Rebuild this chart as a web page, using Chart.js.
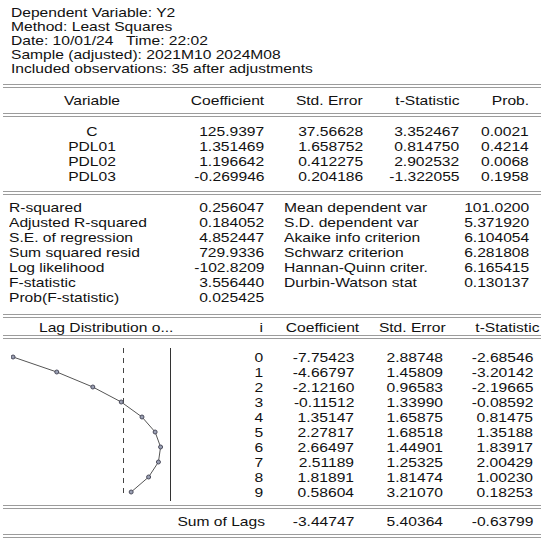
<!DOCTYPE html>
<html lang="en">
  <head>
    <meta charset="UTF-8" />
    <title>Least Squares output</title>
    <style>
      * { margin: 0; padding: 0; box-sizing: border-box; }
      body {
        width: 541px;
        height: 540px;
        overflow: hidden;
        background: #fff;
        position: relative;
        font-family: "Liberation Sans", Arial, sans-serif;
        font-size: 13px;
        color: #111;
      }
      .t {
        position: absolute;
        line-height: 15px;
        white-space: pre;
      }
      .rule {
        position: absolute;
        left: 3px;
        width: 538px;
        height: 4px;
        border-top: 1px solid #9c9c9c;
        border-bottom: 1px solid #9c9c9c;
      }
      #lagBox {
        position: absolute;
        left: 11px;
        top: 348px;
        width: 160px;
        height: 153px;
      }
    </style>
    <script src="https://cdn.jsdelivr.net/npm/chart.js"></script>
    <script>
      const headerLines = [
        "Dependent Variable: Y2",
        "Method: Least Squares",
        "Date: 10/01/24   Time: 22:02",
        "Sample (adjusted): 2021M10 2024M08",
        "Included observations: 35 after adjustments",
      ];
      const columnNames = ["Variable", "Coefficient", "Std. Error", "t-Statistic", "Prob."];
      const variables = ["C", "PDL01", "PDL02", "PDL03"];
      const coefficients = ["125.9397", "1.351469", "1.196642", "-0.269946"];
      const stdErrors = ["37.56628", "1.658752", "0.412275", "0.204186"];
      const tStats = ["3.352467", "0.814750", "2.902532", "-1.322055"];
      const probs = ["0.0021", "0.4214", "0.0068", "0.1958"];

      const statNamesLeft = ["R-squared", "Adjusted R-squared", "S.E. of regression", "Sum squared resid", "Log likelihood", "F-statistic", "Prob(F-statistic)"];
      const statValuesLeft = ["0.256047", "0.184052", "4.852447", "729.9336", "-102.8209", "3.556440", "0.025425"];
      const statNamesRight = ["Mean dependent var", "S.D. dependent var", "Akaike info criterion", "Schwarz criterion", "Hannan-Quinn criter.", "Durbin-Watson stat"];
      const statValuesRight = ["101.0200", "5.371920", "6.104054", "6.281808", "6.165415", "0.130137"];

      const lags = [0, 1, 2, 3, 4, 5, 6, 7, 8, 9];
      const lagCoef = [-7.75423, -4.66797, -2.1216, -0.11512, 1.35147, 2.27817, 2.66497, 2.51189, 1.81891, 0.58604];
      const lagStdErr = [2.88748, 1.45809, 0.96583, 1.3399, 1.65875, 1.68518, 1.44901, 1.25325, 1.81474, 3.2107];
      const lagTStat = [-2.68546, -3.20142, -2.19665, -0.08592, 0.81475, 1.35188, 1.83917, 2.00429, 1.0023, 0.18253];
      const sumOfLags = [-3.44747, 5.40364, -0.63799];

      const W = 541;
      const SX = 1.2;

      function put(text, x, y, align) {
        const d = document.createElement("div");
        d.className = "t";
        d.textContent = text;
        d.style.top = (y - 7.2) + "px";
        if (align === "right") {
          d.style.right = (W - x) + "px";
          d.style.transformOrigin = "right center";
          d.style.transform = `scaleX(${SX})`;
        } else if (align === "center") {
          d.style.left = x + "px";
          d.style.transform = `translateX(-50%) scaleX(${SX})`;
        } else {
          d.style.left = x + "px";
          d.style.transformOrigin = "left center";
          d.style.transform = `scaleX(${SX})`;
        }
        document.body.appendChild(d);
      }

      function rule(y) {
        const d = document.createElement("div");
        d.className = "rule";
        d.style.top = y + "px";
        document.body.appendChild(d);
      }

      // dashed zero line + solid right border of the lag plot
      const lagLines = {
        id: "lagLines",
        beforeDatasetsDraw(chart) {
          const { ctx, chartArea, scales } = chart;
          const x0 = Math.round(scales.x.getPixelForValue(0)) + 0.5;
          ctx.save();
          ctx.strokeStyle = "#444";
          ctx.lineWidth = 1;
          ctx.setLineDash([5, 5]);
          ctx.beginPath();
          ctx.moveTo(x0, chartArea.top);
          ctx.lineTo(x0, chartArea.bottom - 6);
          ctx.stroke();
          ctx.setLineDash([]);
          ctx.strokeStyle = "#333";
          ctx.beginPath();
          ctx.moveTo(chartArea.right - 0.5, chartArea.top);
          ctx.lineTo(chartArea.right - 0.5, chartArea.bottom);
          ctx.stroke();
          ctx.restore();
        },
      };

      window.onload = () => {
        headerLines.forEach((s, i) => put(s, 11, 11.7 + i * 14.2, "left"));

        rule(84);
        put(columnNames[0], 91.5, 100.5, "center");
        put(columnNames[1], 264.5, 100.5, "right");
        put(columnNames[2], 363, 100.5, "right");
        put(columnNames[3], 459.5, 100.5, "right");
        put(columnNames[4], 529, 100.5, "right");
        rule(113);

        variables.forEach((v, i) => {
          const y = 131 + i * 15;
          put(v, 91.5, y, "center");
          put(coefficients[i], 264.5, y, "right");
          put(stdErrors[i], 363, y, "right");
          put(tStats[i], 459.5, y, "right");
          put(probs[i], 529, y, "right");
        });
        rule(191);

        statNamesLeft.forEach((s, i) => {
          const y = 207 + i * 15;
          put(s, 8.5, y, "left");
          put(statValuesLeft[i], 264.5, y, "right");
        });
        statNamesRight.forEach((s, i) => {
          const y = 207 + i * 15;
          put(s, 284, y, "left");
          put(statValuesRight[i], 529, y, "right");
        });
        rule(314);

        put("Lag Distribution o...", 39, 326.7, "left");
        put("i", 263, 326.7, "right");
        put("Coefficient", 359, 326.7, "right");
        put("Std. Error", 446, 326.7, "right");
        put("t-Statistic", 539, 326.7, "right");
        rule(335);

        lags.forEach((lag, i) => {
          const y = 356.7 + i * 15.04;
          put(String(lag), 263, y, "right");
          put(lagCoef[i].toFixed(5), 354, y, "right");
          put(lagStdErr[i].toFixed(5), 443, y, "right");
          put(lagTStat[i].toFixed(5), 533, y, "right");
        });
        rule(505);

        put("Sum of Lags", 264.5, 521, "right");
        put(sumOfLags[0].toFixed(5), 354, 521, "right");
        put(sumOfLags[1].toFixed(5), 443, 521, "right");
        put(sumOfLags[2].toFixed(5), 533, 521, "right");
        rule(534);

        const ctx = document.getElementById("lagChart").getContext("2d");
        new Chart(ctx, {
          type: "scatter",
          data: {
            datasets: [{
              data: lags.map((lag, i) => ({ x: lagCoef[i], y: lag })),
              showLine: true,
              borderColor: "#555",
              borderWidth: 1,
              pointRadius: 2,
              pointBackgroundColor: "#9aa0b4",
              pointBorderColor: "#4a4a5a",
              pointBorderWidth: 1,
              tension: 0,
              clip: false,
            }],
          },
          options: {
            responsive: true,
            maintainAspectRatio: false,
            animation: false,
            layout: { padding: 0, autoPadding: false },
            plugins: { legend: { display: false }, tooltip: { enabled: false } },
            scales: {
              x: { type: "linear", min: -7.9, max: 3.4, display: false },
              y: { type: "linear", min: -0.6, max: 9.6, reverse: true, display: false },
            },
          },
          plugins: [lagLines],
        });
      };
    </script>
  </head>
  <body>
    <div id="lagBox"><canvas id="lagChart"></canvas></div>
  </body>
</html>
